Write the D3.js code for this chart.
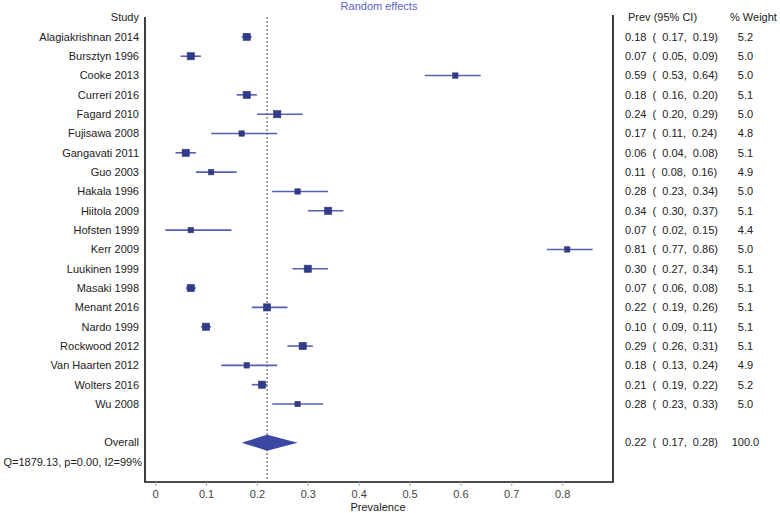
<!DOCTYPE html>
<html>
<head>
<meta charset="utf-8">
<script src="https://cdn.jsdelivr.net/npm/d3@7"></script>
<style>
  html, body { margin: 0; padding: 0; background: #fff; }
  svg { display: block; font-family: "Liberation Sans", Arial, sans-serif; }
  text { white-space: pre; }
</style>
</head>
<body>
<svg id="chart" width="780" height="513"></svg>
<script>
const studies = ["Alagiakrishnan 2014","Bursztyn 1996","Cooke 2013","Curreri 2016","Fagard 2010","Fujisawa 2008","Gangavati 2011","Guo 2003","Hakala 1996","Hiitola 2009","Hofsten 1999","Kerr 2009","Luukinen 1999","Masaki 1998","Menant 2016","Nardo 1999","Rockwood 2012","Van Haarten 2012","Wolters 2016","Wu 2008"];
const prev  = [0.18,0.07,0.59,0.18,0.24,0.17,0.06,0.11,0.28,0.34,0.07,0.81,0.30,0.07,0.22,0.10,0.29,0.18,0.21,0.28];
const lower = [0.17,0.05,0.53,0.16,0.20,0.11,0.04,0.08,0.23,0.30,0.02,0.77,0.27,0.06,0.19,0.09,0.26,0.13,0.19,0.23];
const upper = [0.19,0.09,0.64,0.20,0.29,0.24,0.08,0.16,0.34,0.37,0.15,0.86,0.34,0.08,0.26,0.11,0.31,0.24,0.22,0.33];
const weight = [5.21,5.02,4.97,5.08,5.01,4.82,5.09,4.94,4.96,5.06,4.42,4.97,5.07,5.14,5.06,5.14,5.08,4.88,5.16,4.98];
const overall = {prev: 0.22, lower: 0.17, upper: 0.28, weight: 100.0};
const heterogeneity = "Q=1879.13, p=0.00, I2=99%";
const tickValues = [0,0.1,0.2,0.3,0.4,0.5,0.6,0.7,0.8];
const tickLabels = ["0","0.1","0.2","0.3","0.4","0.5","0.6","0.7","0.8"];

(function () {
const svg = d3.select("#chart");
const x = d3.scaleLinear().domain([-0.02, 0.9]).range([145, 613]);
const y = d3.scaleLinear().domain([0, 19]).range([36.9, 404]);
const boxSize = d3.scaleThreshold().domain([5.0]).range([5.4, 7.2]);

const txt = "#222";
const fs = 11;
const yTop = 17, yBottom = 482;

// title
svg.append("text").attr("x", (x.range()[0] + x.range()[1]) / 2).attr("y", 6)
  .attr("dy", "0.35em").attr("text-anchor", "middle")
  .attr("font-size", fs).attr("fill", "#5a62c8").text("Random effects");

// frame (left, right, bottom)
svg.append("path")
  .attr("d", `M${x.range()[0]},${yTop}V${yBottom}H${x.range()[1]}V${yTop - 2}`)
  .attr("fill", "none").attr("stroke", "#111").attr("stroke-width", 1.6);

// dotted overall line
svg.append("line").attr("x1", x(overall.prev)).attr("x2", x(overall.prev))
  .attr("y1", yTop).attr("y2", yBottom)
  .attr("stroke", "#444").attr("stroke-width", 1).attr("stroke-dasharray", "2,2");

// headers
svg.append("text").attr("x", 139).attr("y", y(-1)).attr("dy", "0.35em")
  .attr("text-anchor", "end").attr("font-size", fs).attr("fill", txt).text("Study");
svg.append("text").attr("x", 628).attr("y", y(-1)).attr("dy", "0.35em")
  .attr("font-size", fs).attr("fill", txt).text("Prev (95% CI)");
svg.append("text").attr("x", 730).attr("y", y(-1)).attr("dy", "0.35em")
  .attr("font-size", fs).attr("fill", txt).text("% Weight");

const rows = studies.map((s, i) => ({s, p: prev[i], lo: lower[i], hi: upper[i], w: weight[i], i}));
const f2 = d3.format(".2f"), f1 = d3.format(".1f");

// study labels
svg.append("g").selectAll("text").data(rows).join("text")
  .attr("x", 139).attr("y", d => y(d.i)).attr("dy", "0.35em")
  .attr("text-anchor", "end").attr("font-size", fs).attr("fill", txt).text(d => d.s);

// CI lines
svg.append("g").selectAll("line").data(rows).join("line")
  .attr("x1", d => x(d.lo)).attr("x2", d => x(d.hi))
  .attr("y1", d => y(d.i)).attr("y2", d => y(d.i))
  .attr("stroke", "#5560b5").attr("stroke-width", 1.6);

// boxes
svg.append("g").selectAll("rect").data(rows).join("rect")
  .attr("x", d => x(d.p) - boxSize(d.w) / 2).attr("y", d => y(d.i) - boxSize(d.w) / 2)
  .attr("width", d => boxSize(d.w)).attr("height", d => boxSize(d.w))
  .attr("fill", "#2e3b8e").attr("stroke", "#3a3f66").attr("stroke-width", 0.6);

// right columns
const ciText = (p, lo, hi) => `${f2(p)}  (  ${f2(lo)},  ${f2(hi)})`;
svg.append("g").selectAll("text").data(rows).join("text")
  .attr("x", 625).attr("y", d => y(d.i)).attr("dy", "0.35em")
  .attr("font-size", fs).attr("fill", txt).text(d => ciText(d.p, d.lo, d.hi));
svg.append("g").selectAll("text").data(rows).join("text")
  .attr("x", 731.7).attr("y", d => y(d.i)).attr("dy", "0.35em")
  .attr("font-size", fs).attr("fill", txt).text(d => f1(d.w).padStart(5, " "));

// overall
const yo = y(21);
svg.append("text").attr("x", 139).attr("y", yo).attr("dy", "0.35em")
  .attr("text-anchor", "end").attr("font-size", fs).attr("fill", txt).text("Overall");
svg.append("path")
  .attr("d", `M${x(overall.lower)},${yo}L${x(overall.prev)},${yo - 8}L${x(overall.upper)},${yo}L${x(overall.prev)},${yo + 8}Z`)
  .attr("fill", "#3a47a3");
svg.append("text").attr("x", 625).attr("y", yo).attr("dy", "0.35em")
  .attr("font-size", fs).attr("fill", txt).text(ciText(overall.prev, overall.lower, overall.upper));
svg.append("text").attr("x", 731.7).attr("y", yo).attr("dy", "0.35em")
  .attr("font-size", fs).attr("fill", txt).text(f1(overall.weight).padStart(5, " "));

// heterogeneity
svg.append("text").attr("x", 142).attr("y", y(22)).attr("dy", "0.35em")
  .attr("text-anchor", "end").attr("font-size", fs).attr("fill", txt).text(heterogeneity);

// x axis
const axis = d3.axisBottom(x).tickValues(tickValues).tickSize(4).tickPadding(4)
  .tickFormat((d, i) => tickLabels[i]);
const ag = svg.append("g").attr("transform", `translate(0,${yBottom})`).call(axis);
ag.select(".domain").remove();
ag.selectAll(".tick line").attr("stroke", "#aaa");
ag.selectAll(".tick text").attr("font-size", fs).attr("fill", "#444")
  .attr("font-family", "Liberation Sans, Arial, sans-serif");

svg.append("text").attr("x", 378).attr("y", 507).attr("dy", "0.35em")
  .attr("text-anchor", "middle").attr("font-size", fs).attr("fill", txt).text("Prevalence");
})();
</script>
</body>
</html>
